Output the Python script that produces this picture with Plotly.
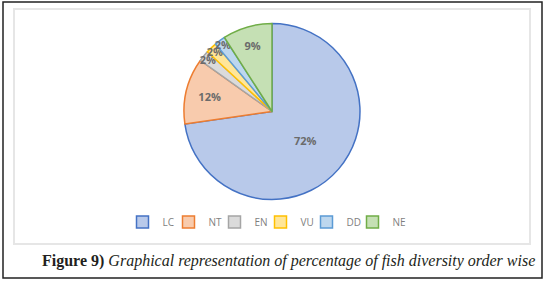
import plotly.graph_objects as go

categories = ["LC", "NT", "EN", "VU", "DD", "NE"]
percent_values = [72, 12, 2, 2, 2, 9]
label_texts = ["72%", "12%", "2%", "2%", "2%", "9%"]

fill_colors = ["#B8C9EA", "#F8CBAD", "#DBDBDB", "#FFE699", "#BDD7EE", "#C5E0B4"]
line_colors = ["#4472C4", "#ED7D31", "#A5A5A5", "#FFC000", "#5B9BD5", "#70AD47"]

W, H = 548, 282

fig = go.Figure()
fig.add_trace(go.Pie(
    labels=categories,
    values=percent_values,
    text=label_texts,
    texttemplate="%{text}",
    textposition="inside",
    insidetextorientation="horizontal",
    textfont=dict(family="Open Sans", size=11, color="#6B6B6B", weight="bold"),
    sort=False,
    direction="clockwise",
    rotation=0,
    marker=dict(colors=fill_colors, line=dict(color=line_colors, width=1.5)),
    domain=dict(x=[184 / W, 360 / W], y=[1 - 200 / H, 1 - 23 / H]),
    hoverinfo="label+percent",
))
# invisible trailing legend spacer so the last legend label is not clipped
fig.add_trace(go.Scatter(
    x=[None], y=[None], mode="markers", name="",
    marker=dict(color="rgba(0,0,0,0)", size=1),
    showlegend=True, hoverinfo="skip",
))

fig.update_layout(
    width=W, height=H,
    margin=dict(l=0, r=0, t=0, b=0),
    paper_bgcolor="white",
    plot_bgcolor="white",
    xaxis=dict(visible=False),
    yaxis=dict(visible=False),
    uniformtext=dict(minsize=11, mode="show"),
    showlegend=True,
    legend=dict(
        orientation="h",
        x=283.5 / W, xanchor="center",
        y=1 - 222 / H, yanchor="middle",
        font=dict(family="Open Sans", size=10, color="#7F7F7F"),
        itemwidth=30,
        entrywidth=1,
        bgcolor="rgba(0,0,0,0)",
    ),
    shapes=[
        dict(type="rect", xref="paper", yref="paper",
             x0=14 / W, x1=530 / W, y0=1 - 244 / H, y1=1 - 9 / H,
             line=dict(color="#E6E6E6", width=2)),
        dict(type="rect", xref="paper", yref="paper",
             x0=3 / W, x1=542 / W, y0=1 - 278 / H, y1=1 - 2 / H,
             line=dict(color="#222222", width=1.5)),
    ],
    annotations=[
        dict(text="<b>Figure 9)</b> <i>Graphical representation of percentage of fish diversity order wise</i>",
             x=537 / W, xanchor="right", y=1 - 261 / H, yanchor="middle",
             xref="paper", yref="paper", showarrow=False,
             font=dict(family="Liberation Serif", size=16, color="#231F20")),
    ],
)

fig.write_html(
    "out.html",
    config={"displayModeBar": False},
    post_script="document.body.style.margin='0';document.body.style.overflow='hidden';",
)
